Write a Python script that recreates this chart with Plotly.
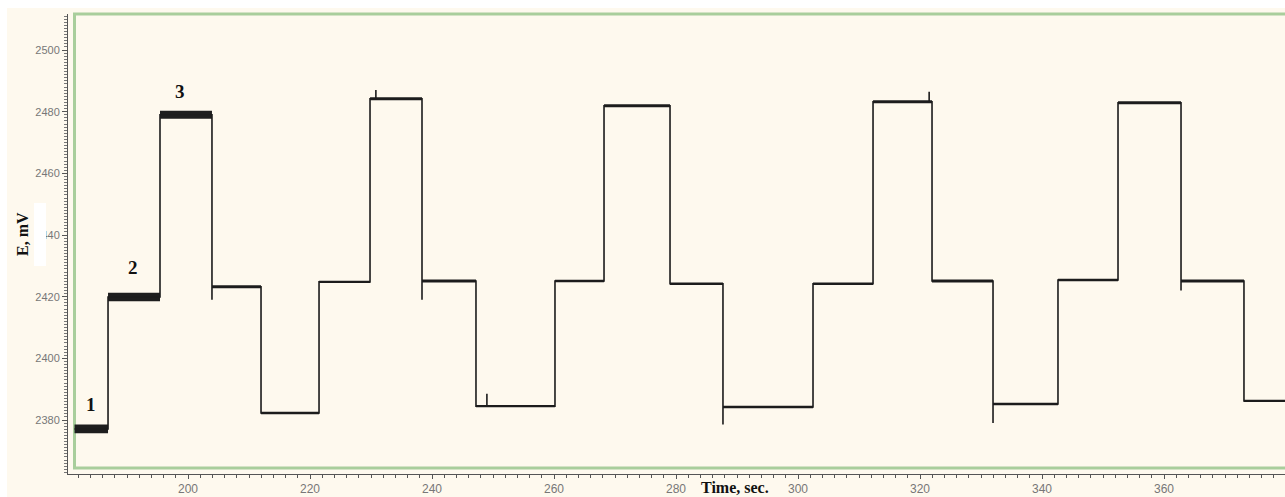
import plotly.graph_objects as go

# Potential steps recorded over time: plateau boundaries (s) and plateau levels (mV)
step_edges = [181.4, 186.89, 195.41, 203.93, 211.97, 221.48, 229.84, 238.36, 247.21,
              260.16, 268.20, 279.02, 287.70, 302.46, 312.30, 321.97, 331.97, 342.62,
              352.46, 362.79, 373.11, 380.0]
step_levels = [2377.1, 2419.9, 2479.0, 2423.2, 2382.3, 2424.8, 2484.2, 2425.1, 2384.5,
               2425.1, 2481.9, 2424.2, 2384.2, 2424.2, 2483.2, 2425.1, 2385.2, 2425.4,
               2482.9, 2425.1, 2386.2]
# half peak-to-peak noise on each plateau (mV)
step_noise = [1.4, 1.4, 1.3, 0.5, 0.4, 0.4, 0.5, 0.5, 0.4, 0.4, 0.5, 0.4, 0.4, 0.4,
              0.5, 0.5, 0.4, 0.4, 0.5, 0.5, 0.4]
# overshoot at a switching time: (time, extreme value)
overshoots = [(203.93, 2419.0), (238.36, 2419.0), (287.70, 2378.5), (331.97, 2379.0),
              (362.79, 2422.0)]
# isolated spikes on a plateau: (time, extreme value)
spikes = [(230.8, 2487.0), (249.0, 2388.5), (321.5, 2486.5)]

# step labels
label_text = ["1", "2", "3"]
label_time = [184.1, 191.0, 198.7]
label_mv = [2384.9, 2429.3, 2486.4]

x_ticks = [200, 220, 240, 260, 280, 300, 320, 340, 360]
y_ticks = [2380, 2400, 2420, 2440, 2460, 2480, 2500]

# build the step path
over = dict(overshoots)
xs, ys = [], []
for i, lvl in enumerate(step_levels):
    t0, t1 = step_edges[i], step_edges[i + 1]
    if t0 in over:
        xs.append(t0)
        ys.append(over[t0])
    xs.append(t0)
    ys.append(lvl)
    for ts, sv in sorted(spikes):
        if t0 < ts < t1:
            xs += [ts, ts, ts]
            ys += [lvl, sv, lvl]
    xs.append(t1)
    ys.append(lvl)

# noise bands around each plateau
bx, by = [], []
for i, lvl in enumerate(step_levels):
    t0, t1 = step_edges[i], step_edges[i + 1]
    r = step_noise[i]
    bx += [t0, t1, t1, t0, t0, None]
    by += [lvl - r, lvl - r, lvl + r, lvl + r, lvl - r, None]

W, H = 1285, 497
ML, MR, MT, MB = 68, 0, 14, 23
PW, PH = W - ML - MR, H - MT - MB


def px(x):
    return (x - ML) / PW


def py(y):
    return (H - MB - y) / PH


cream = "#FEF9EE"
green = "#A9CE9C"

fig = go.Figure()
fig.add_trace(go.Scatter(x=bx, y=by, mode="lines", fill="toself",
                         fillcolor="#1e1e1e", line=dict(width=0),
                         hoverinfo="skip", showlegend=False))
fig.add_trace(go.Scatter(x=xs, y=ys, mode="lines",
                         line=dict(color="#1c1c1c", width=1.6),
                         showlegend=False))

for t, v, s in zip(label_time, label_mv, label_text):
    fig.add_annotation(x=t, y=v, text="<b>" + s + "</b>", showarrow=False,
                       font=dict(family="Liberation Serif", size=19, color="#111"),
                       xanchor="center", yanchor="middle")

# green frame of the plotting region
fig.add_shape(type="rect", xref="paper", yref="paper",
              x0=px(74.5), x1=1.05, y0=py(468), y1=py(14),
              line=dict(color=green, width=3), fillcolor="rgba(0,0,0,0)", layer="below")

# white patch behind the y-axis title
fig.add_shape(type="rect", xref="paper", yref="paper",
              x0=px(34), x1=px(46), y0=py(266), y1=py(203),
              line=dict(width=0), fillcolor="white", layer="above")
# white strips along the top and left edges
fig.add_shape(type="rect", xref="paper", yref="paper",
              x0=px(0), x1=px(W), y0=py(8), y1=py(0),
              line=dict(width=0), fillcolor="white", layer="above")
fig.add_shape(type="rect", xref="paper", yref="paper",
              x0=px(0), x1=px(7), y0=py(H), y1=py(0),
              line=dict(width=0), fillcolor="white", layer="above")

fig.add_annotation(xref="paper", yref="paper", x=px(22), y=py(234),
                   text="<b>E, mV</b>", textangle=-90, showarrow=False,
                   font=dict(family="Liberation Serif", size=16, color="#111"),
                   xanchor="center", yanchor="middle")
fig.add_annotation(xref="paper", yref="paper", x=px(735), y=py(487),
                   text="<b>Time, sec.</b>", showarrow=False,
                   font=dict(family="Liberation Serif", size=16, color="#111"),
                   xanchor="center", yanchor="middle")

x_lo = 200 + (ML - 188) / 6.1
x_hi = 200 + (W - MR - 188) / 6.1
y_lo = 2380 - (H - MB - 420) / 3.083
y_hi = 2500 + (50 - MT) / 3.083

fig.update_layout(
    width=W, height=H,
    margin=dict(l=ML, r=MR, t=MT, b=MB, pad=0),
    paper_bgcolor=cream, plot_bgcolor=cream,
    xaxis=dict(range=[x_lo, x_hi], tickmode="array", tickvals=x_ticks,
               ticktext=[str(v) for v in x_ticks],
               showgrid=False, zeroline=False, showline=True, linecolor="#555",
               linewidth=1, ticks="outside", ticklen=4, tickcolor="#555",
               tickfont=dict(family="Liberation Sans", size=12, color="#777"),
               minor=dict(dtick=2, ticks="outside", ticklen=3, tickcolor="#555",
                          showgrid=False)),
    yaxis=dict(range=[y_lo, y_hi], tickmode="array", tickvals=y_ticks,
               ticktext=[str(v) for v in y_ticks],
               showgrid=False, zeroline=False, showline=True, linecolor="#555",
               linewidth=1, ticks="outside", ticklen=5, tickcolor="#555",
               tickfont=dict(family="Liberation Sans", size=11, color="#777"),
               minor=dict(dtick=1, ticks="outside", ticklen=3, tickcolor="#777",
                          showgrid=False)),
)

fig.write_html("out.html")
